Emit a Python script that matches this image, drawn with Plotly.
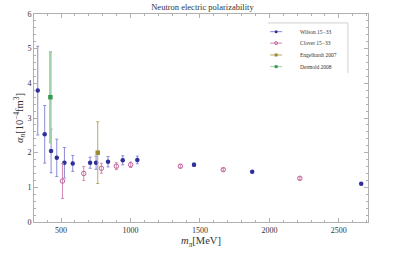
import plotly.graph_objects as go

wilson_x = [332, 382, 428, 469, 524, 584, 709, 752, 838, 944, 1049, 1457, 1876, 2661]
wilson_y = [3.79, 2.53, 2.05, 1.85, 1.71, 1.69, 1.71, 1.71, 1.74, 1.78, 1.79, 1.65, 1.45, 1.10]
wilson_err = [1.28, 0.83, 0.63, 0.54, 0.44, 0.23, 0.16, 0.19, 0.15, 0.13, 0.11, 0.05, 0.03, 0.03]

clover_x = [510, 663, 790, 898, 1001, 1359, 1668, 2219]
clover_y = [1.18, 1.40, 1.55, 1.61, 1.65, 1.61, 1.51, 1.26]
clover_err = [0.50, 0.20, 0.14, 0.10, 0.08, 0.05, 0.04, 0.04]

engel_x = [764]
engel_y = [2.00]
engel_err = [0.89]

detmold_x = [423]
detmold_y = [3.60]
detmold_err = [1.30]

series_names = ["Wilson 15\u221233", "Clover 15\u221233", "Engelhardt 2007", "Detmold 2008"]

FONT = "Liberation Serif"

styles = [
    dict(mc="#2f2f9c", ec="#8a8ad6", sym="circle", th=1),
    dict(mc="#c2649c", ec="#d48ab8", sym="circle-open", th=1),
    dict(mc="#9a8a30", ec="#b8aa66", sym="square", th=1),
    dict(mc="#3a9a52", ec="#9ed0aa", sym="square", th=2.5),
]
data = [(wilson_x, wilson_y, wilson_err), (clover_x, clover_y, clover_err),
        (engel_x, engel_y, engel_err), (detmold_x, detmold_y, detmold_err)]

fig = go.Figure()
for name, (xs, ys, es), st in zip(series_names, data, styles):
    fig.add_trace(go.Scatter(
        x=xs, y=ys, mode="markers", name=name, showlegend=False,
        marker=dict(color=st["mc"], size=4.5, symbol=st["sym"],
                    line=dict(width=1, color=st["mc"]) if st["sym"] == "circle-open" else dict(width=0)),
        error_y=dict(type="data", array=es, color=st["ec"], thickness=st["th"], width=1.5)))

# manual compact legend on an overlay axis (0..1 in both directions)
leg_rows = [0.915, 0.860, 0.803, 0.747]
for name, st, yr in zip(series_names, styles, leg_rows):
    fig.add_trace(go.Scatter(
        x=[0.707, 0.743], y=[yr, yr], mode="lines", xaxis="x2", yaxis="y2",
        line=dict(color=st["ec"], width=1), showlegend=False, hoverinfo="skip"))
    fig.add_trace(go.Scatter(
        x=[0.725], y=[yr], mode="markers", xaxis="x2", yaxis="y2",
        marker=dict(color=st["mc"], size=3, symbol=st["sym"],
                    line=dict(width=1, color=st["mc"]) if st["sym"] == "circle-open" else dict(width=0)),
        showlegend=False, hoverinfo="skip"))
    fig.add_annotation(x=0.790, y=yr, xref="x2", yref="y2", text=name, showarrow=False,
                       xanchor="left", yanchor="middle",
                       font=dict(family=FONT, size=5.5, color="#333333"))

axis_common = dict(
    showline=True, linecolor="#b0b0b0", linewidth=1, mirror="allticks",
    ticks="inside", ticklen=4, tickcolor="#b0b0b0", tickwidth=1,
    showgrid=False, zeroline=False, automargin=False,
    tickfont=dict(family=FONT, size=8, color="#333333"),
)

fig.update_layout(
    width=409, height=255,
    margin=dict(l=34, r=41, t=14, b=33),
    paper_bgcolor="white", plot_bgcolor="white",
    font=dict(family=FONT, color="#333333"),
    title=dict(text="Neutron electric polarizability", x=0.495, xanchor="center",
               y=0.985, yanchor="top", font=dict(family=FONT, size=8.5, color="#333333")),
    xaxis=dict(range=[305, 2710], tickvals=[500, 1000, 1500, 2000, 2500],
               minor=dict(ticks="inside", dtick=100, tick0=0, ticklen=2, tickcolor="#b0b0b0"),
               title=dict(text="<i>m<sub>\u03c0</sub></i>[MeV]", font=dict(family=FONT, size=10.5), standoff=3),
               **axis_common),
    yaxis=dict(range=[0, 6], tickvals=[0, 1, 2, 3, 4, 5, 6],
               minor=dict(ticks="inside", dtick=0.2, tick0=0, ticklen=2, tickcolor="#b0b0b0"),
               title=dict(text="<i>\u03b1<sub>n</sub></i>[10<sup>\u22124</sup>fm<sup>3</sup>]", font=dict(family=FONT, size=10.5), standoff=1),
               **axis_common),
    xaxis2=dict(range=[0, 1], overlaying="x", visible=False, fixedrange=True),
    yaxis2=dict(range=[0, 1], overlaying="y", visible=False, fixedrange=True),
    showlegend=False,
)

# legend frame: top and right edges
fig.add_shape(type="line", xref="paper", yref="paper", x0=0.70, x1=0.94, y0=0.957, y1=0.957,
              line=dict(color="#d0d0d0", width=1))
fig.add_shape(type="line", xref="paper", yref="paper", x0=0.94, x1=0.94, y0=0.957, y1=0.716,
              line=dict(color="#d0d0d0", width=1))

fig.write_html("out.html", config={"displayModeBar": False},
               post_script="document.body.style.margin='0';")
